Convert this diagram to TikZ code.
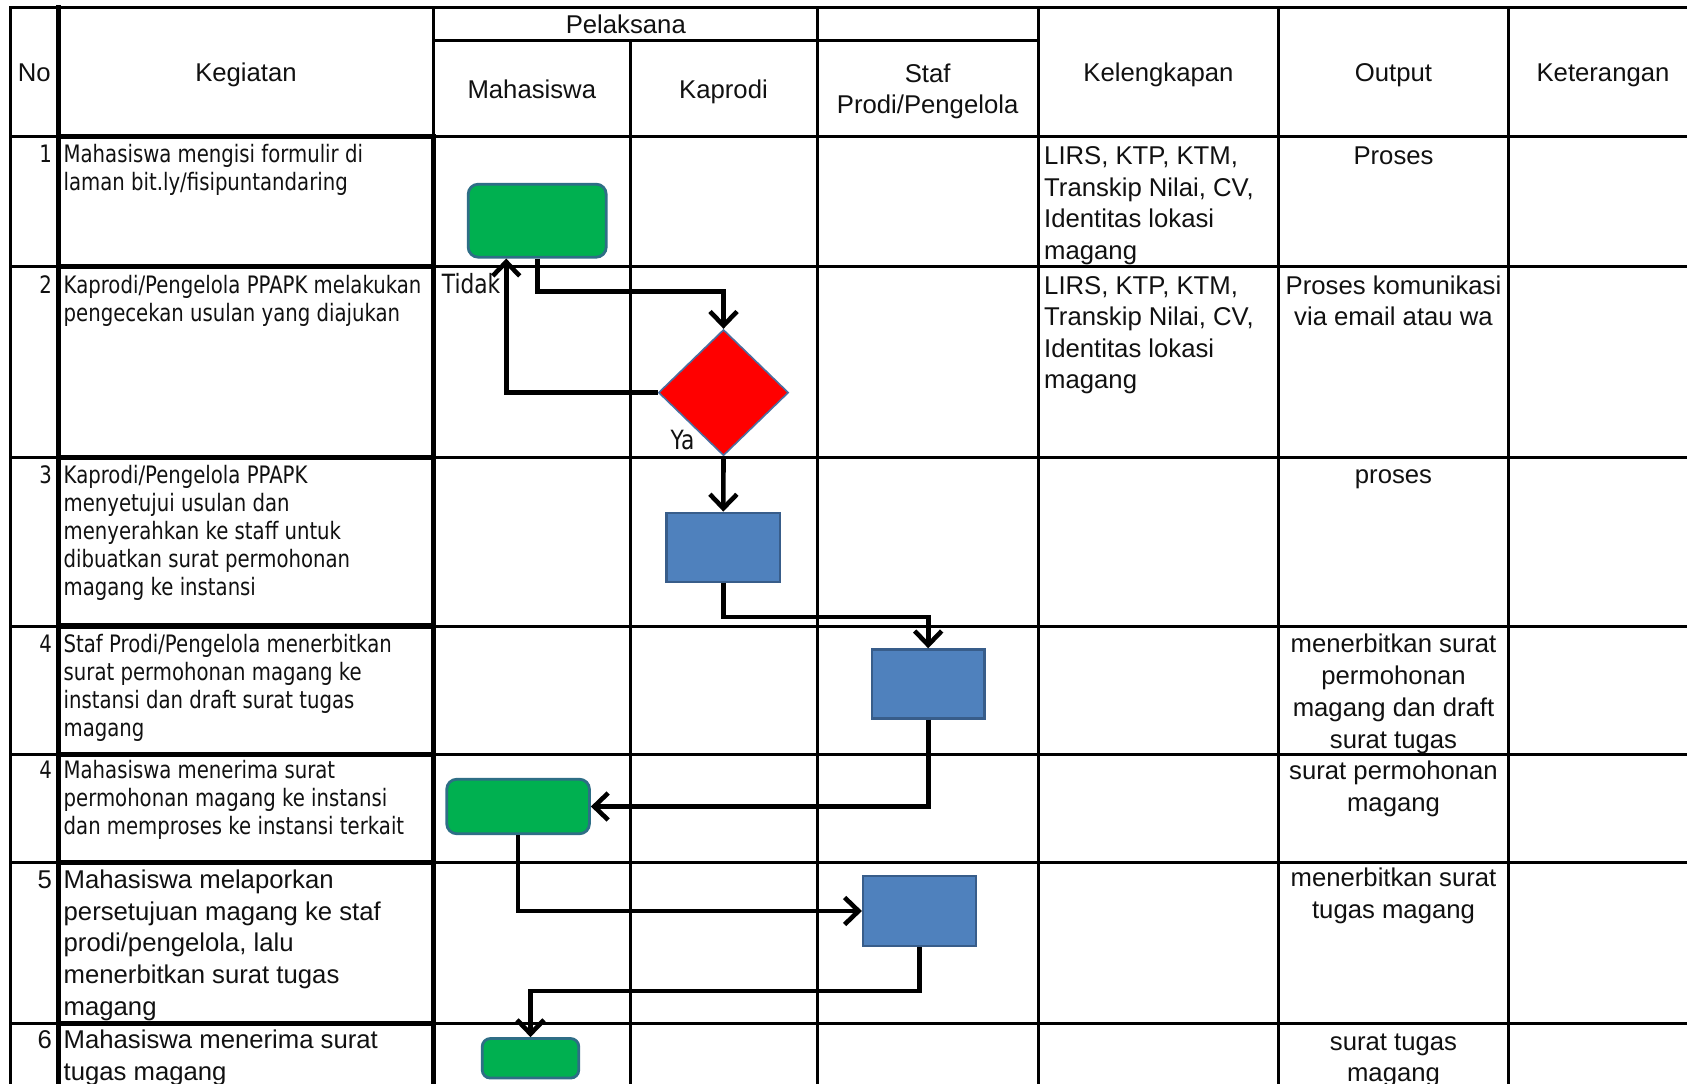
\documentclass[tikz,border=0pt]{standalone}
\usepackage{fontspec}
\setmainfont{Liberation Sans}
\newfontfamily\tahfont[FakeStretch=0.82]{DejaVu Sans}
\usetikzlibrary{arrows.meta,shapes.geometric}

\definecolor{exgreen}{HTML}{00B050}
\definecolor{exgreenedge}{HTML}{2E6E86}
\definecolor{exblue}{HTML}{4F81BD}
\definecolor{exblueedge}{HTML}{385D8A}
\definecolor{exred}{HTML}{FF0000}
\definecolor{exrededge}{HTML}{4A6FA0}
\definecolor{ink}{HTML}{111111}

\begin{document}
\begin{tikzpicture}[x=1pt,y=-1pt,
  gridline/.style={line width=3pt, line cap=rect},
  gridheavy/.style={line width=5.5pt, line cap=rect},
  conn/.style={line width=4.6pt, -{Straight Barb[length=14pt,width=27pt]}},
  txt/.style={inner sep=0pt, text=ink},
  atext/.style={txt, font=\fontsize{25.7}{#1}\selectfont},
  atext/.default=31.5,
  ttext/.style={txt, font=\tahfont\fontsize{24}{28}\selectfont},
  lbl/.style={txt, font=\tahfont\fontsize{26.5}{30}\selectfont},
  gbox/.style={draw=exgreenedge, fill=exgreen, line width=2.8pt, rounded corners=10pt, inner sep=0pt},
  bbox/.style={draw=exblueedge, fill=exblue, line width=2.2pt, inner sep=0pt},
  decision/.style={diamond, draw=exrededge, fill=exred, line width=1.6pt, inner sep=0pt}
]
\fill[white] (0,0) rectangle (1687,1084);
\useasboundingbox (0,0) rectangle (1687,1084);

% ---- table grid ----
\draw[gridline] (10,7.5) -- (1687,7.5);
\draw[gridline] (433.6,40.7) -- (1038.3,40.7);
\foreach \y in {136.7,266.7,457.3,626,754.3,862.5,1023.5}
  \draw[gridline] (10,\y) -- (1687,\y);
\foreach \x in {10,433.6,817,1038.3,1278.7,1508.3}
  \draw[gridline] (\x,7.5) -- (\x,1084);
\draw[gridline] (630,40.7) -- (630,1084);
% heavy frame of the activity column
\draw[gridheavy] (58.5,7.5) -- (58.5,1084);
\draw[gridheavy] (433.6,136.7) -- (433.6,1084);
\foreach \y in {136.7,266.7,457.3,626,754.3,862.5,1023.5}
  \draw[gridheavy] (58.5,\y) -- (433.6,\y);

% ---- header ----
\node[atext, anchor=base] (hno) at (34.3,81.7) {No};
\node[atext, anchor=base] (hkeg) at (246,81.7) {Kegiatan};
\node[atext, anchor=base] (hpel) at (625.8,33.3) {Pelaksana};
\node[atext, anchor=base] (hmhs) at (531.8,98.3) {Mahasiswa};
\node[atext, anchor=base] (hkap) at (723.5,98.3) {Kaprodi};
\node[atext=31, anchor=north, align=center] (hstaf) at (927.6,60.3) {\strut Staf\\Prodi/Pengelola};
\node[atext, anchor=base] (hkel) at (1158.5,81.7) {Kelengkapan};
\node[atext, anchor=base] (hout) at (1393.5,81.7) {Output};
\node[atext, anchor=base] (hket) at (1603,81.7) {Keterangan};

% ---- row numbers ----
\node[ttext, anchor=base east] (n1) at (52,162.7) {1};
\node[ttext, anchor=base east] (n2) at (52,293) {2};
\node[ttext, anchor=base east] (n3) at (52,483.3) {3};
\node[ttext, anchor=base east] (n4) at (52,652.3) {4};
\node[ttext, anchor=base east] (n5) at (52,778.3) {4};
\node[atext, anchor=base east] (n6) at (52,888.3) {5};
\node[atext, anchor=base east] (n7) at (52,1048.3) {6};

% ---- activities ----
\node[ttext, anchor=north west, align=left] (k1) at (63.5,143.1)
  {\strut Mahasiswa mengisi formulir di\\laman bit.ly/fisipuntandaring};
\node[ttext, anchor=north west, align=left] (k2) at (63.5,273.4)
  {\strut Kaprodi/Pengelola PPAPK melakukan\\pengecekan usulan yang diajukan};
\node[ttext, anchor=north west, align=left] (k3) at (63.5,463.7)
  {\strut Kaprodi/Pengelola PPAPK\\menyetujui usulan dan\\menyerahkan ke staff untuk\\dibuatkan surat permohonan\\magang ke instansi};
\node[ttext, anchor=north west, align=left] (k4) at (63.5,632.7)
  {\strut Staf Prodi/Pengelola menerbitkan\\surat permohonan magang ke\\instansi dan draft surat tugas\\magang};
\node[ttext, anchor=north west, align=left] (k5) at (63.5,758.7)
  {\strut Mahasiswa menerima surat\\permohonan magang ke instansi\\dan memproses ke instansi terkait};
\node[atext=31.7, anchor=north west, align=left] (k6) at (63.5,866.1)
  {\strut Mahasiswa melaporkan\\persetujuan magang ke staf\\prodi/pengelola, lalu\\menerbitkan surat tugas\\magang};
\node[atext=31.7, anchor=north west, align=left] (k7) at (63.5,1026.1)
  {\strut Mahasiswa menerima surat\\tugas magang};

% ---- requirements ----
\node[atext, anchor=north west, align=left] (l1) at (1044,142.3)
  {\strut LIRS, KTP, KTM,\\Transkip Nilai, CV,\\Identitas lokasi\\magang};
\node[atext, anchor=north west, align=left] (l2) at (1044,272)
  {\strut LIRS, KTP, KTM,\\Transkip Nilai, CV,\\Identitas lokasi\\magang};

% ---- outputs ----
\node[atext, anchor=base] (o1) at (1393.5,164.3) {Proses};
\node[atext, anchor=north, align=center] (o2) at (1393.5,272)
  {\strut Proses komunikasi\\via email atau wa};
\node[atext, anchor=base] (o3) at (1393.5,483.5) {proses};
\node[atext=32, anchor=north, align=center] (o4) at (1393.5,629.9)
  {\strut menerbitkan surat\\permohonan\\magang dan draft\\surat tugas};
\node[atext=32, anchor=north, align=center] (o5) at (1393.5,756.9)
  {\strut surat permohonan\\magang};
\node[atext=31.7, anchor=north, align=center] (o6) at (1393.5,864.5)
  {\strut menerbitkan surat\\tugas magang};
\node[atext=31, anchor=north, align=center] (o7) at (1393.5,1028.3)
  {\strut surat tugas\\magang};

% ---- flow shapes ----
\node[gbox, minimum width=138pt, minimum height=73pt] (g1) at (537.2,220.7) {};
\node[decision, minimum width=130pt, minimum height=126pt] (dia) at (723.5,392.6) {};
\node[bbox, minimum width=113.5pt, minimum height=69pt] (b3) at (723.3,547.2) {};
\node[bbox, minimum width=112.5pt, minimum height=69pt] (b4) at (928.2,683.9) {};
\node[gbox, minimum width=142.7pt, minimum height=54.5pt] (g5) at (518.1,806.5) {};
\node[bbox, minimum width=113pt, minimum height=70pt] (b6) at (919.5,911) {};
\node[gbox, rounded corners=8pt, minimum width=96.5pt, minimum height=39.5pt] (g7) at (530.5,1058.3) {};

% ---- connectors ----
\draw[conn] (g1.south) -- ++(0,33) -| (dia.north);
\draw[conn] (dia.west) -| ([xshift=-31pt]g1.south);
\draw[conn] (dia.south) -- (b3.north);
\draw[conn] (b3.south) -- ++(0,34) -| (b4.north);
\draw[conn] (b4.south) |- (g5.east);
\draw[conn] (g5.south) |- (b6.west);
\draw[conn] (b6.south) -- ++(0,44) -| (g7.north);

% ---- decision labels ----
\node[lbl, anchor=base west] (tidak) at (441.7,293.3) {Tidak};
\node[lbl, anchor=base west] (ya) at (670.5,449.3) {Ya};
\end{tikzpicture}
\end{document}
